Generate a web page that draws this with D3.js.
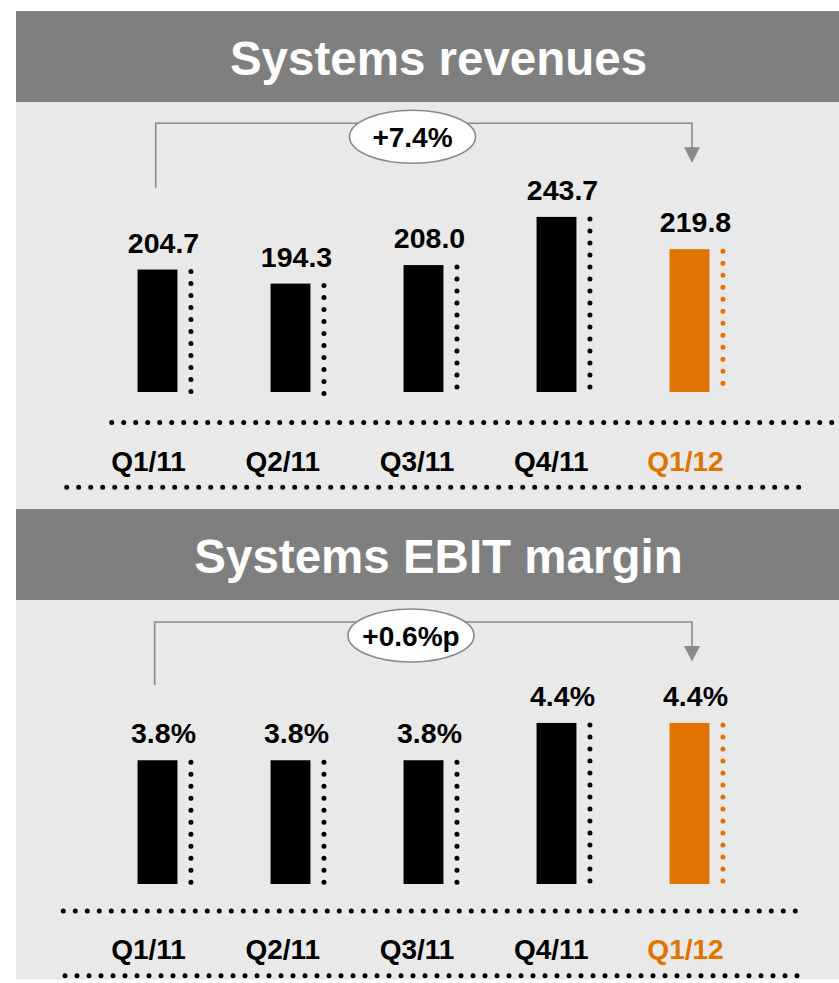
<!DOCTYPE html>
<html>
<head>
<meta charset="utf-8">
<script src="https://cdn.jsdelivr.net/npm/d3@7"></script>
<style>
  html, body { margin: 0; padding: 0; background: #ffffff; }
  svg { display: block; }
  text { font-family: "Liberation Sans", Arial, Helvetica, sans-serif; font-weight: bold; }
</style>
</head>
<body>
<svg id="chart" width="839" height="983"></svg>
<script>
// Quarterly data for the two panels
const quarters = ["Q1/11", "Q2/11", "Q3/11", "Q4/11", "Q1/12"];
const revenues = [204.7, 194.3, 208.0, 243.7, 219.8];
const revenueLabels = ["204.7", "194.3", "208.0", "243.7", "219.8"];
const ebitMargins = [3.8, 3.8, 3.8, 4.4, 4.4];
const ebitLabels = ["3.8%", "3.8%", "3.8%", "4.4%", "4.4%"];
const panelTitles = ["Systems revenues", "Systems EBIT margin"];
const changeLabels = ["+7.4%", "+0.6%p"];

const GREY_HEADER = "#7f7f7f";
const PANEL_BG = "#e9e9e9";
const ORANGE = "#e07400";
const LINE_GREY = "#8a8a8a";

const svg = d3.select("#chart");

function colorFor(q) { return q === "Q1/12" ? ORANGE : "#000000"; }

function drawPanel(opts) {
  const g = svg.append("g");

  // background + header band
  g.append("rect").attr("x", 16).attr("y", opts.headerTop + 91)
    .attr("width", 823).attr("height", opts.panelBottom - (opts.headerTop + 91))
    .attr("fill", PANEL_BG);
  g.append("rect").attr("x", 16).attr("y", opts.headerTop)
    .attr("width", 823).attr("height", 91).attr("fill", GREY_HEADER);
  g.append("text").attr("x", 438.5).attr("y", opts.headerTop + 64)
    .attr("text-anchor", "middle").attr("fill", "#ffffff")
    .attr("font-size", 47.5).text(opts.title);

  const x = d3.scaleBand().domain(quarters).range([91, 756])
    .paddingInner(0.7).paddingOuter(0.35);
  const y = d3.scaleLinear().domain(opts.domain).range(opts.range);
  const base = opts.range[0];
  const labelX = d3.scalePoint().domain(quarters).range([148.5, 685.5]);

  const data = quarters.map((q, i) => ({ q, v: opts.values[i], label: opts.labels[i] }));

  // bars
  g.selectAll("rect.bar").data(data).join("rect").attr("class", "bar")
    .attr("x", d => x(d.q)).attr("width", x.bandwidth())
    .attr("y", d => y(d.v)).attr("height", d => base - y(d.v))
    .attr("fill", d => colorFor(d.q));

  // dotted columns beside each bar
  g.selectAll("line.dots").data(data).join("line").attr("class", "dots")
    .attr("x1", d => x(d.q) + x.bandwidth() + 13.5)
    .attr("x2", d => x(d.q) + x.bandwidth() + 13.5)
    .attr("y1", d => y(d.v) + 2).attr("y2", base + 2)
    .attr("stroke", d => colorFor(d.q)).attr("stroke-width", 5)
    .attr("stroke-linecap", "round").attr("stroke-dasharray", "0 12");

  // value labels
  g.selectAll("text.val").data(data).join("text").attr("class", "val")
    .attr("x", d => x(d.q) + x.bandwidth() / 2 + 6)
    .attr("y", d => y(d.v) - 17)
    .attr("text-anchor", "middle").attr("font-size", 28.5).attr("fill", "#000")
    .text(d => d.label);

  // dotted rules around the category labels
  opts.rules.forEach(r => {
    g.append("line").attr("x1", r[0]).attr("x2", r[1]).attr("y1", r[2]).attr("y2", r[2])
      .attr("stroke", "#000").attr("stroke-width", 5)
      .attr("stroke-linecap", "round").attr("stroke-dasharray", "0 12");
  });

  // category labels
  g.selectAll("text.cat").data(quarters).join("text").attr("class", "cat")
    .attr("x", d => labelX(d)).attr("y", opts.catBaseline)
    .attr("text-anchor", "middle").attr("font-size", 28)
    .attr("fill", d => colorFor(d)).text(d => d);

  // change bracket from first to last quarter
  const bx0 = opts.bracketX0, bx1 = x("Q1/12") + x.bandwidth() / 2 + 2.5;
  const by = opts.bracketY;
  g.append("path")
    .attr("d", `M${bx0},${opts.bracketLow} V${by} H${bx1} V${by + 25}`)
    .attr("fill", "none").attr("stroke", LINE_GREY).attr("stroke-width", 1.6);
  g.append("path")
    .attr("d", `M${bx1 - 8},${by + 24} L${bx1 + 8},${by + 24} L${bx1},${by + 39.5} Z`)
    .attr("fill", LINE_GREY);
  g.append("ellipse").attr("cx", opts.ellipseCx).attr("cy", by + 13.5)
    .attr("rx", 63).attr("ry", 26.5)
    .attr("fill", "#ffffff").attr("stroke", LINE_GREY).attr("stroke-width", 1.6);
  g.append("text").attr("x", opts.ellipseCx).attr("y", by + 23.5)
    .attr("text-anchor", "middle").attr("font-size", 28).attr("fill", "#000")
    .text(opts.change);
}

drawPanel({
  title: panelTitles[0], headerTop: 11, panelBottom: 509,
  values: revenues, labels: revenueLabels,
  domain: [114, 245], range: [392, 215.15],
  rules: [[111.7, 845, 422.5], [66.7, 800, 487.3]],
  catBaseline: 471,
  bracketX0: 155.7, bracketY: 123.3, bracketLow: 187.7, ellipseCx: 412.5,
  change: changeLabels[0]
});

drawPanel({
  title: panelTitles[1], headerTop: 509, panelBottom: 979.5,
  values: ebitMargins, labels: ebitLabels,
  domain: [1.81, 4.6], range: [884, 710.5],
  rules: [[63.3, 799, 911], [65, 801, 975.7]],
  catBaseline: 959.3,
  bracketX0: 154.7, bracketY: 622, bracketLow: 685, ellipseCx: 411,
  change: changeLabels[1]
});
</script>
</body>
</html>
